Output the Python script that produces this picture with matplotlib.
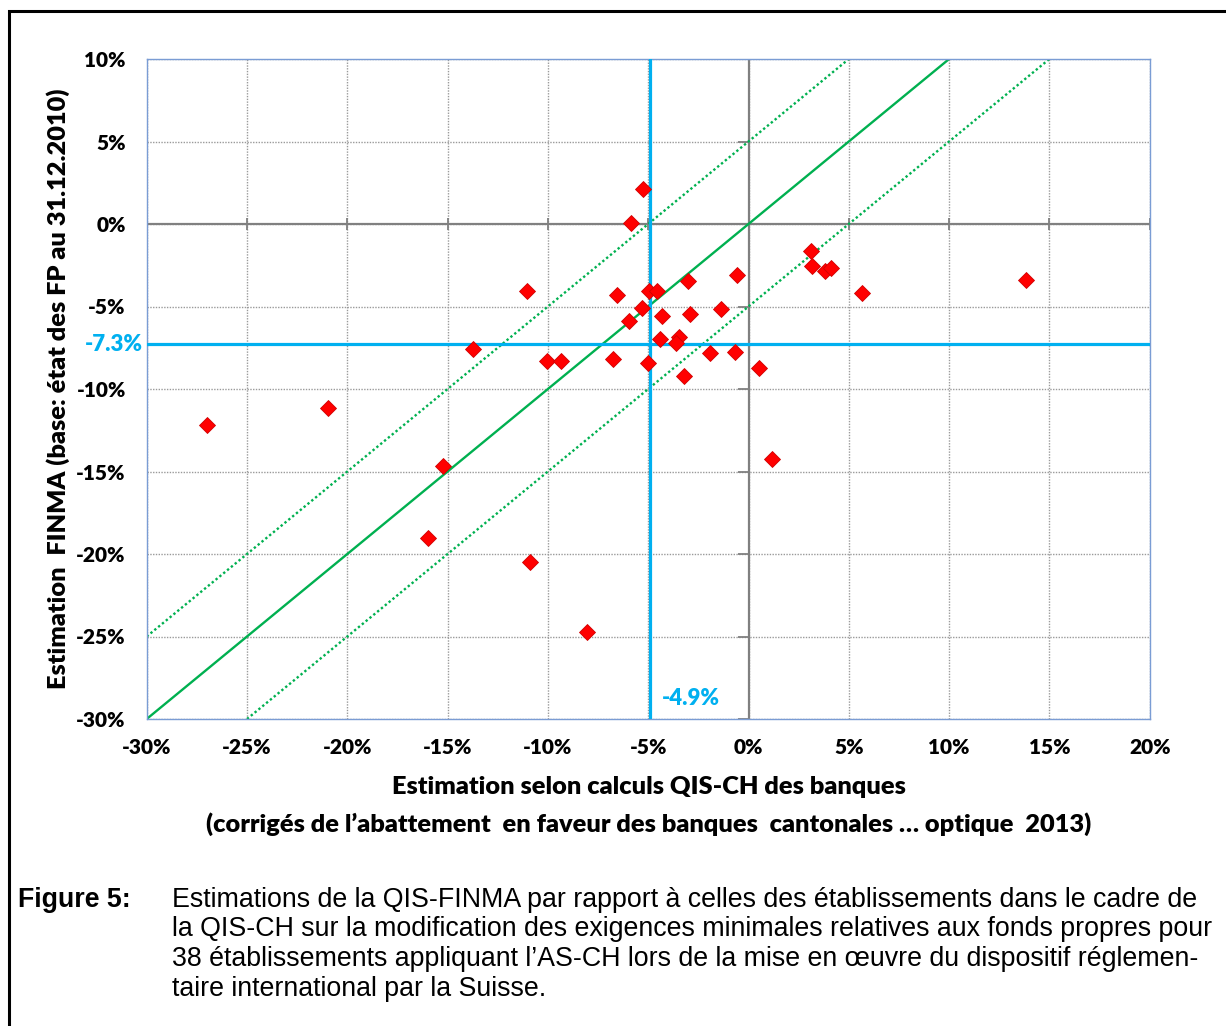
import numpy as np
import matplotlib
matplotlib.use('Agg')
import matplotlib.pyplot as plt
from matplotlib.patches import Rectangle

# QIS-CH estimates from the banks (x) vs. FINMA estimates (y), in %
bank_est = [
    -27.0, -20.97, -15.24, -15.98, -10.9, -8.06, -11.05, -13.74, -10.05, -9.36,
    -5.26, -5.87, -6.55, -4.97, -4.54, -5.31, -5.95, -4.29, -3.01, -2.93,
    -0.59, -1.38, -4.41, -3.48, -3.63, -6.75, -5.01, -3.21, -1.92, -0.69,
    0.52, 3.13, 3.18, 3.8, 4.1, 5.66, 13.85, 1.17,
]
finma_est = [
    -12.2, -11.15, -14.67, -19.03, -20.48, -24.73, -4.06, -7.58, -8.3, -8.3,
    2.12, 0.08, -4.32, -4.04, -4.04, -5.07, -5.9, -5.56, -3.44, -5.45,
    -3.07, -5.13, -6.97, -6.87, -7.23, -8.16, -8.4, -9.21, -7.84, -7.76,
    -8.75, -1.65, -2.55, -2.83, -2.69, -4.16, -3.41, -14.24,
]
mean_bank = -4.9
mean_finma = -7.3
band = 5

ticks_x = [-30, -25, -20, -15, -10, -5, 0, 5, 10, 15, 20]
ticks_y = [-30, -25, -20, -15, -10, -5, 0, 5, 10]

W, H = 1226, 1026
font = 'Lato'
blue = '#00B0F0'
green = '#00B050'

fig = plt.figure(figsize=(W / 100, H / 100), dpi=100)
fig.patch.set_facecolor('white')

def px(x, y):
    return x / W, 1 - y / H

# frame around the figure block
fig.patches.append(Rectangle(px(8.5, 1100), 1300 / W, (1100 - 11) / H,
                             transform=fig.transFigure, fill=False,
                             edgecolor='black', lw=2.2))

x0, y0 = px(146.7, 719)
x1, y1 = px(1149.7, 59)
ax = fig.add_axes([x0, y0, x1 - x0, y1 - y0])

ax.set_xlim(-30, 20)
ax.set_ylim(-30, 10)
ax.set_xticks(ticks_x)
ax.set_yticks(ticks_y)
ax.set_xticklabels([f'{t}%' for t in ticks_x], fontfamily=font, fontweight='heavy', fontsize=15)
ax.set_yticklabels([f'{t}%' for t in ticks_y], fontfamily=font, fontweight='heavy', fontsize=15)
ax.tick_params(axis='x', length=0, pad=14)
ax.tick_params(axis='y', length=0, pad=15)

ax.grid(True, color='#9A9A9A', lw=1.0, linestyle=(0, (1, 1)))
ax.set_axisbelow(True)
for s in ax.spines.values():
    s.set_color('#7A9CD4')
    s.set_linewidth(1.0)

# zero lines with small tick marks
ax.axhline(0, color='#808080', lw=1.6, zorder=1)
ax.axvline(0, color='#808080', lw=1.6, zorder=1)
ax.plot(ticks_x, [0] * len(ticks_x), linestyle='none', marker='|', ms=8,
        mec='#808080', mew=1.3, zorder=1)
ax.plot([-0.2] * len(ticks_y), ticks_y, linestyle='none', marker='_', ms=8,
        mec='#808080', mew=1.3, zorder=1)

# diagonal and +/- band
diag = np.array([-30, 10])
ax.plot(diag, diag, color=green, lw=1.7, zorder=2)
ax.plot([-30, 10 - band], [-30 + band, 10], color=green, lw=1.7,
        linestyle=(0, (1, 1.1)), zorder=2)
ax.plot([-30 + band, 10 + band], [-30, 10], color=green, lw=1.7,
        linestyle=(0, (1, 1.1)), zorder=2)

# averages
ax.axvline(mean_bank, color=blue, lw=2.3, zorder=3)
ax.axhline(mean_finma, color=blue, lw=2.3, zorder=3)
ax.text(mean_bank + 0.6, -28.75, f'{mean_bank}%', color=blue, fontfamily=font,
        fontweight='heavy', fontsize=16, va='center', ha='left')
ax.text(-30.2, mean_finma, f'{mean_finma}%', color=blue, fontfamily=font,
        fontweight='heavy', fontsize=16, va='center', ha='right')

ax.plot(bank_est, finma_est, linestyle='none', marker='D', ms=8.6,
        mfc='#FF0000', mec='#D00000', mew=0.6, zorder=4)

# axis titles
fig.text(*px(58, 389), 'Estimation  FINMA (base: état des FP au 31.12.2010)',
         rotation=90, ha='center', va='center', fontfamily=font,
         fontweight='heavy', fontsize=18.3)
fig.text(*px(649, 787), 'Estimation selon calculs QIS-CH des banques',
         ha='center', va='center', fontfamily=font, fontweight='heavy', fontsize=18.3)
fig.text(*px(649, 824),
         '(corrigés de l\u2019abattement  en faveur des banques  cantonales \u2026 optique  2013)',
         ha='center', va='center', fontfamily=font, fontweight='heavy', fontsize=18.3)

# caption
cap_font = 'Liberation Sans'
fig.text(*px(18, 900), 'Figure 5:', ha='left', va='center', fontfamily=cap_font,
         fontweight='bold', fontsize=19.3)
caption = [
    'Estimations de la QIS-FINMA par rapport à celles des établissements dans le cadre de',
    'la QIS-CH sur la modification des exigences minimales relatives aux fonds propres pour',
    '38 établissements appliquant l\u2019AS-CH lors de la mise en \u0153uvre du dispositif réglemen-',
    'taire international par la Suisse.',
]
for i, line in enumerate(caption):
    fig.text(*px(172, 900 + 29.5 * i), line, ha='left', va='center',
             fontfamily=cap_font, fontsize=19.3)

fig.savefig('out.png', dpi=100, facecolor='white')
